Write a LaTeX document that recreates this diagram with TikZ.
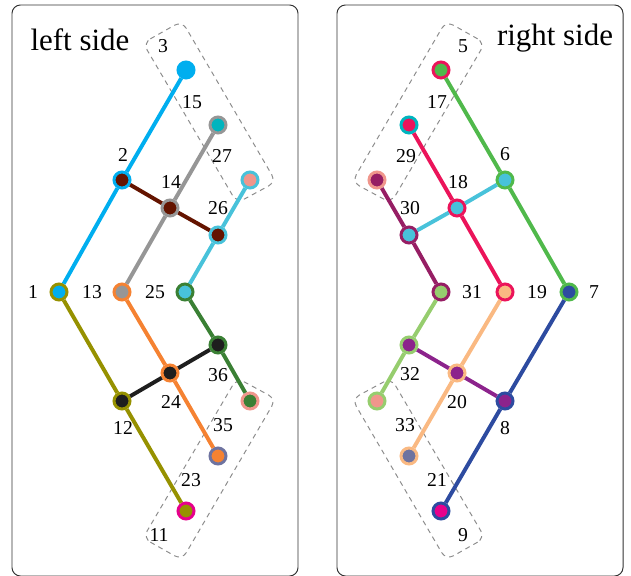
\documentclass[tikz,border=0pt]{standalone}
\usepackage{fontspec}
\setmainfont{Liberation Serif}
\usepackage{tikz}
\usetikzlibrary{positioning}
\definecolor{skyblue}{RGB}{0,174,239}
\definecolor{midgray}{RGB}{150,150,150}
\definecolor{lightcyan}{RGB}{72,194,218}
\definecolor{darkbrown}{RGB}{100,20,0}
\definecolor{olive}{RGB}{150,145,0}
\definecolor{myorange}{RGB}{245,130,50}
\definecolor{darkgreen}{RGB}{58,128,52}
\definecolor{nearblack}{RGB}{30,30,30}
\definecolor{teal}{RGB}{0,180,190}
\definecolor{salmon}{RGB}{240,150,140}
\definecolor{grayblue}{RGB}{110,115,160}
\definecolor{hotpink}{RGB}{230,0,140}
\definecolor{mygreen}{RGB}{80,185,75}
\definecolor{myred}{RGB}{235,20,90}
\definecolor{plum}{RGB}{150,30,100}
\definecolor{lightgreen}{RGB}{150,205,110}
\definecolor{peach}{RGB}{250,185,130}
\definecolor{navy}{RGB}{45,75,160}
\definecolor{violet}{RGB}{140,35,140}

\begin{document}
\begin{tikzpicture}[x=0.025cm, y=-0.025cm]
    \tikzstyle{panel}=[draw=black!80, line width=0.7pt, rounded corners=6pt]
    \tikzstyle{grp}=[draw=black!45, line width=0.7pt, dash pattern=on 3.5pt off 3pt, rounded corners=6pt]
    \tikzstyle{dot}=[circle, line width=2.1pt, minimum size=0.4cm, inner sep=0pt]
    \tikzstyle{edge}=[line width=2.8pt]
    \tikzstyle{num}=[font=\fontsize{14}{16}\selectfont, inner sep=1pt]
    \tikzstyle{title}=[font=\fontsize{22}{24}\selectfont, inner sep=0pt]
    \useasboundingbox (0,0) rectangle (631,576);

    % panels
    \draw[panel] (12,5) rectangle (298,576);
    \draw[panel] (337,5) rectangle (623,576);
    \node[title] (lefttitle) at (80,40) {left side};
    \node[title] (righttitle) at (555,38) {right side};

    % groups
    \draw[grp] (143,43) -- (182,21) -- (276,182) -- (237,203) -- cycle;
    \draw[grp] (143,538) -- (182,560) -- (276,399) -- (237,378) -- cycle;
    \draw[grp] (485,43) -- (446,21) -- (352,182) -- (391,203) -- cycle;
    \draw[grp] (485,538) -- (446,560) -- (352,399) -- (391,378) -- cycle;

    % left side
    \node[dot, fill=skyblue, draw=skyblue] (n3) at (186,70) {};
    \node[dot, fill=teal, draw=midgray] (n15) at (218,125) {};
    \node[dot, fill=salmon, draw=lightcyan] (n27) at (250,180) {};
    \node[dot, fill=darkbrown, draw=skyblue] (n2) at (122,180) {};
    \node[dot, fill=darkbrown, draw=midgray] (n14) at (170,208) {};
    \node[dot, fill=darkbrown, draw=lightcyan] (n26) at (218,235) {};
    \node[dot, fill=skyblue, draw=olive] (n1) at (59,292) {};
    \node[dot, fill=midgray, draw=myorange] (n13) at (122,292) {};
    \node[dot, fill=lightcyan, draw=darkgreen] (n25) at (185,292) {};
    \node[dot, fill=nearblack, draw=darkgreen] (n36) at (218,345) {};
    \node[dot, fill=nearblack, draw=myorange] (n24) at (170,373) {};
    \node[dot, fill=nearblack, draw=olive] (n12) at (122,401) {};
    \node[dot, fill=darkgreen, draw=salmon] (n35) at (250,401) {};
    \node[dot, fill=myorange, draw=grayblue] (n23) at (218,456) {};
    \node[dot, fill=olive, draw=hotpink] (n11) at (186,511) {};

    \draw[edge, skyblue] (n1) -- (n2) -- (n3);
    \draw[edge, midgray] (n13) -- (n14) -- (n15);
    \draw[edge, lightcyan] (n25) -- (n26) -- (n27);
    \draw[edge, darkbrown] (n2) -- (n14) -- (n26);
    \draw[edge, olive] (n1) -- (n12) -- (n11);
    \draw[edge, myorange] (n13) -- (n24) -- (n23);
    \draw[edge, darkgreen] (n25) -- (n36) -- (n35);
    \draw[edge, nearblack] (n12) -- (n24) -- (n36);

    \node[num] (t3) at (163,46) {3};
    \node[num] (t15) at (192,102) {15};
    \node[num] (t27) at (222,156) {27};
    \node[num] (t2) at (123,155) {2};
    \node[num] (t14) at (171,182) {14};
    \node[num] (t26) at (218,208) {26};
    \node[num] (t1) at (33,292) {1};
    \node[num] (t13) at (92,292) {13};
    \node[num] (t25) at (155,292) {25};
    \node[num] (t36) at (218,375) {36};
    \node[num] (t24) at (171,402) {24};
    \node[num] (t12) at (123,428) {12};
    \node[num] (t35) at (223,425) {35};
    \node[num] (t23) at (191,480) {23};
    \node[num] (t11) at (159,535) {11};

    % right side
    \node[dot, fill=mygreen, draw=myred] (n5) at (441,70) {};
    \node[dot, fill=myred, draw=teal] (n17) at (409,125) {};
    \node[dot, fill=plum, draw=salmon] (n29) at (377,180) {};
    \node[dot, fill=lightcyan, draw=mygreen] (n6) at (505,180) {};
    \node[dot, fill=lightcyan, draw=myred] (n18) at (457,208) {};
    \node[dot, fill=lightcyan, draw=plum] (n30) at (409,235) {};
    \node[dot, fill=navy, draw=mygreen] (n7) at (569,292) {};
    \node[dot, fill=peach, draw=myred] (n19) at (505,292) {};
    \node[dot, fill=lightgreen, draw=plum] (n31) at (441,292) {};
    \node[dot, fill=violet, draw=lightgreen] (n32) at (409,345) {};
    \node[dot, fill=violet, draw=peach] (n20) at (457,373) {};
    \node[dot, fill=violet, draw=navy] (n8) at (505,401) {};
    \node[dot, fill=salmon, draw=lightgreen] (n33) at (377,401) {};
    \node[dot, fill=grayblue, draw=peach] (n21) at (409,456) {};
    \node[dot, fill=hotpink, draw=navy] (n9) at (441,511) {};

    \draw[edge, mygreen] (n5) -- (n6) -- (n7);
    \draw[edge, myred] (n17) -- (n18) -- (n19);
    \draw[edge, plum] (n29) -- (n30) -- (n31);
    \draw[edge, lightcyan] (n6) -- (n18) -- (n30);
    \draw[edge, navy] (n7) -- (n8) -- (n9);
    \draw[edge, peach] (n19) -- (n20) -- (n21);
    \draw[edge, lightgreen] (n31) -- (n32) -- (n33);
    \draw[edge, violet] (n8) -- (n20) -- (n32);

    \node[num] (t5) at (463,46) {5};
    \node[num] (t17) at (437,102) {17};
    \node[num] (t29) at (406,156) {29};
    \node[num] (t6) at (505,154) {6};
    \node[num] (t18) at (458,182) {18};
    \node[num] (t30) at (410,208) {30};
    \node[num] (t31) at (472,292) {31};
    \node[num] (t19) at (537,292) {19};
    \node[num] (t7) at (594,292) {7};
    \node[num] (t32) at (410,374) {32};
    \node[num] (t20) at (457,402) {20};
    \node[num] (t8) at (505,428) {8};
    \node[num] (t33) at (405,425) {33};
    \node[num] (t21) at (437,480) {21};
    \node[num] (t9) at (463,535) {9};
\end{tikzpicture}
\end{document}
